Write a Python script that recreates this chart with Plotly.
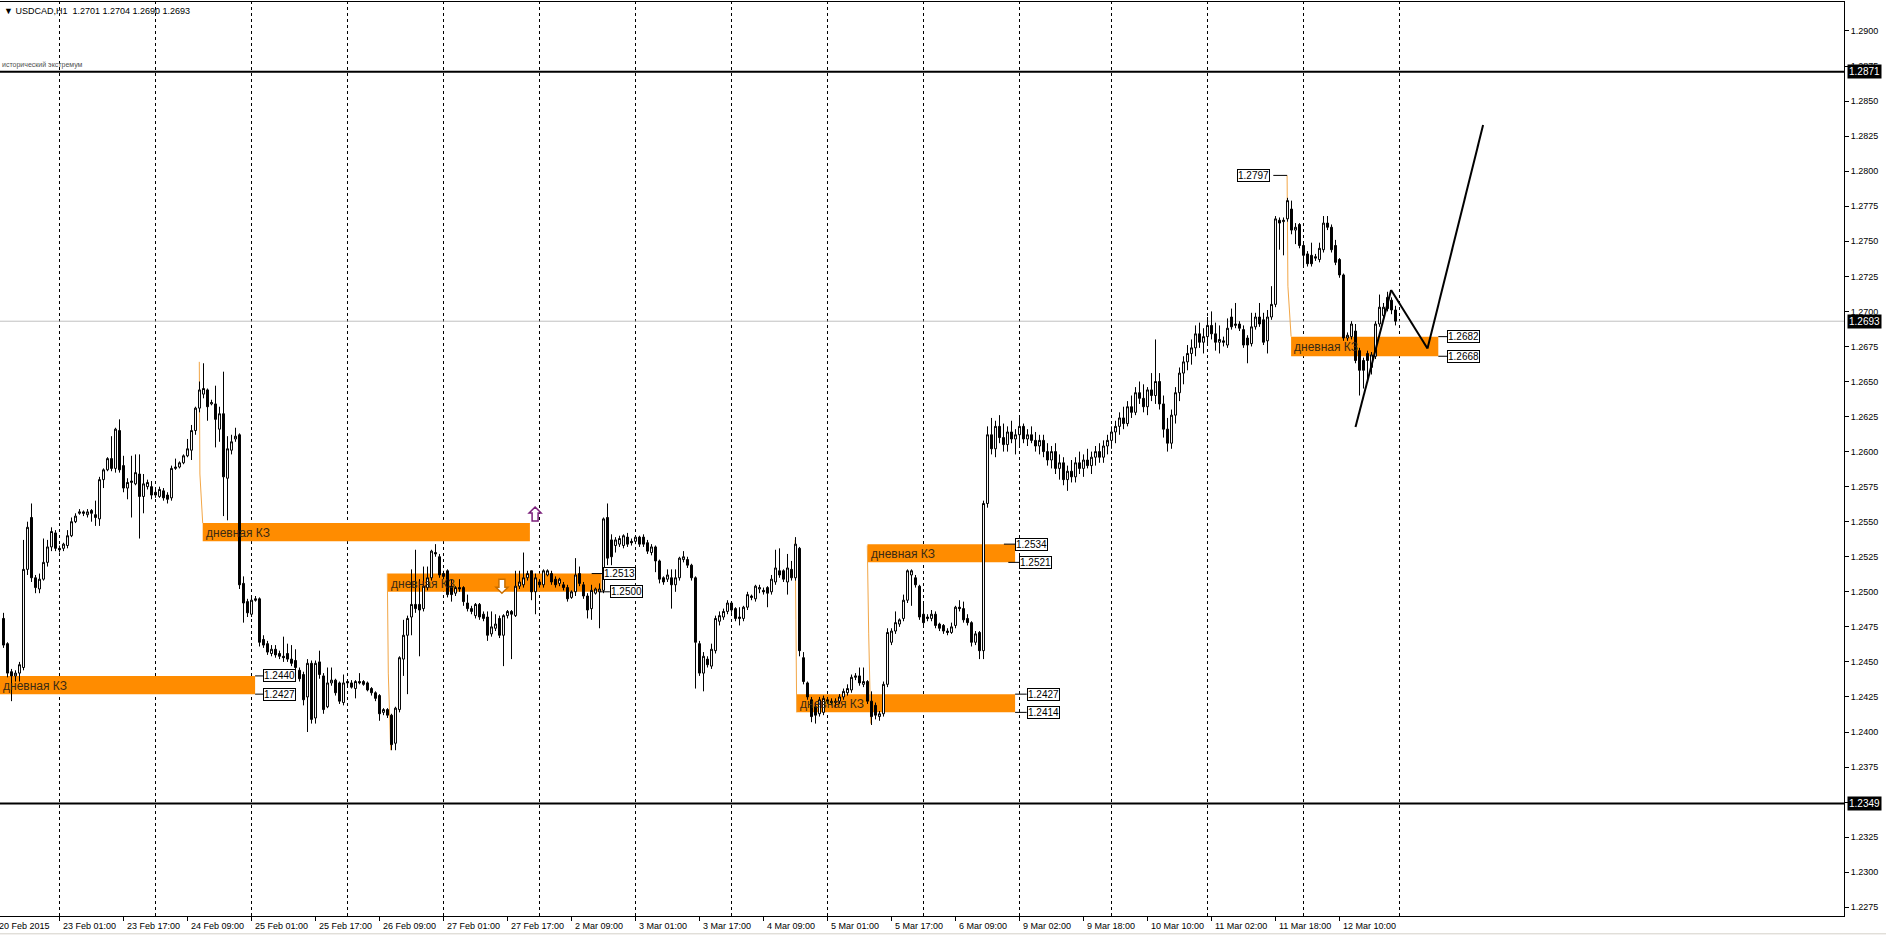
import plotly.graph_objects as go

# USDCAD H1 candles, bar index 0 = 23 Feb 01:00 (4 px per bar on screen)
bar_start = -14

opens = [
    1.2481, 1.2463, 1.2443, 1.2440, 1.2442, 1.2446, 1.2516, 1.2553, 1.2510, 1.2502,
    1.2509, 1.2521, 1.2532, 1.2542, 1.2531, 1.2531, 1.2533, 1.2540, 1.2550, 1.2556,
    1.2557, 1.2555, 1.2558, 1.2555, 1.2552, 1.2580, 1.2587, 1.2595, 1.2588, 1.2615,
    1.2590, 1.2574, 1.2578, 1.2577, 1.2584, 1.2568, 1.2575, 1.2575, 1.2571, 1.2568,
    1.2572, 1.2569, 1.2567, 1.2588, 1.2589, 1.2592, 1.2597, 1.2601, 1.2615, 1.2631,
    1.2641, 1.2644, 1.2634, 1.2634, 1.2616, 1.2627, 1.2581, 1.2601, 1.2609, 1.2612,
    1.2506, 1.2493, 1.2484, 1.2495, 1.2495, 1.2466, 1.2463, 1.2456, 1.2459, 1.2456,
    1.2454, 1.2456, 1.2452, 1.2451, 1.2444, 1.2441, 1.2425, 1.2449, 1.2410, 1.2450,
    1.2440, 1.2418, 1.2435, 1.2437, 1.2435, 1.2421, 1.2436, 1.2435, 1.2431, 1.2436,
    1.2436, 1.2435, 1.2431, 1.2428, 1.2426, 1.2414, 1.2416, 1.2412, 1.2392, 1.2416,
    1.2452, 1.2469, 1.2482, 1.2491, 1.2491, 1.2488, 1.2503, 1.2510, 1.2528, 1.2525,
    1.2513, 1.2515, 1.2504, 1.2499, 1.2503, 1.2503, 1.2492, 1.2488, 1.2483, 1.2491,
    1.2484, 1.2482, 1.2470, 1.2474, 1.2481, 1.2469, 1.2483, 1.2486, 1.2483, 1.2504,
    1.2505, 1.2510, 1.2515, 1.2500, 1.2507, 1.2505, 1.2512, 1.2513, 1.2509, 1.2506,
    1.2505, 1.2503, 1.2496, 1.2500, 1.2513, 1.2505, 1.2497, 1.2488, 1.2499, 1.2500,
    1.2501, 1.2553, 1.2537, 1.2533, 1.2534, 1.2533, 1.2539, 1.2536, 1.2536, 1.2539,
    1.2539, 1.2535, 1.2528, 1.2532, 1.2522, 1.2510, 1.2509, 1.2510, 1.2505, 1.2510,
    1.2523, 1.2523, 1.2519, 1.2510, 1.2463, 1.2442, 1.2452, 1.2447, 1.2458, 1.2479,
    1.2482, 1.2486, 1.2492, 1.2488, 1.2482, 1.2481, 1.2489, 1.2497, 1.2495, 1.2502,
    1.2501, 1.2503, 1.2500, 1.2507, 1.2515, 1.2515, 1.2507, 1.2516, 1.2510, 1.2531,
    1.2453, 1.2435, 1.2423, 1.2418, 1.2413, 1.2414, 1.2423, 1.2422, 1.2421, 1.2422,
    1.2425, 1.2428, 1.2430, 1.2439, 1.2440, 1.2434, 1.2436, 1.2422, 1.2419, 1.2411,
    1.2413, 1.2434, 1.2464, 1.2472, 1.2477, 1.2481, 1.2494, 1.2512, 1.2510, 1.2504,
    1.2484, 1.2482, 1.2481, 1.2484, 1.2477, 1.2476, 1.2472, 1.2471, 1.2476, 1.2489,
    1.2488, 1.2481, 1.2478, 1.2464, 1.2471, 1.2458, 1.2563, 1.2612, 1.2602, 1.2618,
    1.2610, 1.2605, 1.2614, 1.2609, 1.2612, 1.2618, 1.2609, 1.2612, 1.2608, 1.2604,
    1.2608, 1.2600, 1.2594, 1.2600, 1.2588, 1.2592, 1.2580, 1.2586, 1.2582, 1.2592,
    1.2588, 1.2594, 1.2590, 1.2596, 1.2600, 1.2596, 1.2604, 1.2608, 1.2614, 1.2618,
    1.2624, 1.2620, 1.2632, 1.2628, 1.2642, 1.2638, 1.2632, 1.2644, 1.2640, 1.2650,
    1.2634, 1.2616, 1.2606, 1.2626, 1.2642, 1.2656, 1.2664, 1.2670, 1.2674, 1.2684,
    1.2678, 1.2682, 1.2690, 1.2684, 1.2678, 1.2679, 1.2676, 1.2696, 1.2690, 1.2691,
    1.2687, 1.2681, 1.2677, 1.2689, 1.2696, 1.2694, 1.2679, 1.2696, 1.2705, 1.2765,
    1.2764, 1.2766, 1.2773, 1.2758, 1.2762, 1.2747, 1.2741, 1.2740, 1.2739, 1.2737,
    1.2744, 1.2763, 1.2760, 1.2747, 1.2737, 1.2726, 1.2681, 1.2682, 1.2686, 1.2672,
    1.2665, 1.2670, 1.2660, 1.2668, 1.2691, 1.2697, 1.2710, 1.2708, 1.2701,
]
highs = [
    1.2485, 1.2464, 1.2445, 1.2444, 1.2450, 1.2537, 1.2550, 1.2563, 1.2512, 1.2513,
    1.2538, 1.2537, 1.2546, 1.2544, 1.2533, 1.2535, 1.2544, 1.2553, 1.2556, 1.2559,
    1.2558, 1.2559, 1.2559, 1.2565, 1.2582, 1.2588, 1.2596, 1.2611, 1.2617, 1.2623,
    1.2597, 1.2581, 1.2597, 1.2598, 1.2598, 1.2584, 1.2580, 1.2579, 1.2573, 1.2575,
    1.2574, 1.2571, 1.2590, 1.2595, 1.2593, 1.2598, 1.2609, 1.2619, 1.2632, 1.2650,
    1.2663, 1.2645, 1.2637, 1.2647, 1.2632, 1.2657, 1.2611, 1.2612, 1.2617, 1.2613,
    1.2511, 1.2495, 1.2496, 1.2497, 1.2496, 1.2469, 1.2465, 1.2462, 1.2462, 1.2458,
    1.2468, 1.2463, 1.2462, 1.2459, 1.2446, 1.2443, 1.2452, 1.2451, 1.2451, 1.2458,
    1.2442, 1.2446, 1.2446, 1.2438, 1.2436, 1.2441, 1.2437, 1.2437, 1.2437, 1.2442,
    1.2437, 1.2436, 1.2432, 1.2429, 1.2427, 1.2417, 1.2417, 1.2413, 1.2418, 1.2454,
    1.2480, 1.2483, 1.2516, 1.2530, 1.2509, 1.2518, 1.2518, 1.2530, 1.2534, 1.2527,
    1.2515, 1.2516, 1.2509, 1.2504, 1.2509, 1.2504, 1.2498, 1.2490, 1.2492, 1.2492,
    1.2486, 1.2486, 1.2486, 1.2484, 1.2483, 1.2484, 1.2487, 1.2487, 1.2515, 1.2515,
    1.2528, 1.2515, 1.2515, 1.2513, 1.2509, 1.2516, 1.2516, 1.2515, 1.2511, 1.2510,
    1.2507, 1.2505, 1.2501, 1.2524, 1.2518, 1.2507, 1.2499, 1.2505, 1.2503, 1.2506,
    1.2553, 1.2563, 1.2541, 1.2539, 1.2540, 1.2541, 1.2542, 1.2538, 1.2540, 1.2540,
    1.2541, 1.2537, 1.2534, 1.2533, 1.2523, 1.2511, 1.2516, 1.2516, 1.2516, 1.2525,
    1.2529, 1.2525, 1.2520, 1.2511, 1.2465, 1.2457, 1.2454, 1.2463, 1.2483, 1.2486,
    1.2488, 1.2494, 1.2493, 1.2489, 1.2489, 1.2490, 1.2500, 1.2498, 1.2505, 1.2505,
    1.2503, 1.2504, 1.2512, 1.2530, 1.2531, 1.2516, 1.2527, 1.2522, 1.2539, 1.2532,
    1.2457, 1.2436, 1.2425, 1.2421, 1.2425, 1.2426, 1.2425, 1.2424, 1.2424, 1.2427,
    1.2431, 1.2434, 1.2441, 1.2442, 1.2446, 1.2446, 1.2437, 1.2429, 1.2421, 1.2415,
    1.2436, 1.2474, 1.2474, 1.2486, 1.2481, 1.2498, 1.2516, 1.2516, 1.2512, 1.2505,
    1.2492, 1.2484, 1.2487, 1.2486, 1.2478, 1.2477, 1.2474, 1.2478, 1.2490, 1.2494,
    1.2493, 1.2484, 1.2479, 1.2472, 1.2472, 1.2565, 1.2618, 1.2624, 1.2622, 1.2626,
    1.2620, 1.2618, 1.2622, 1.2616, 1.2624, 1.2620, 1.2616, 1.2618, 1.2614, 1.2612,
    1.2612, 1.2606, 1.2604, 1.2606, 1.2598, 1.2596, 1.2590, 1.2594, 1.2596, 1.2600,
    1.2598, 1.2602, 1.2600, 1.2604, 1.2606, 1.2608, 1.2612, 1.2618, 1.2622, 1.2628,
    1.2632, 1.2636, 1.2640, 1.2646, 1.2650, 1.2648, 1.2646, 1.2656, 1.2680, 1.2656,
    1.2640, 1.2624, 1.2630, 1.2646, 1.2660, 1.2668, 1.2676, 1.2680, 1.2690, 1.2692,
    1.2688, 1.2696, 1.2700, 1.2692, 1.2690, 1.2682, 1.2695, 1.2702, 1.2706, 1.2693,
    1.2690, 1.2683, 1.2699, 1.2699, 1.2706, 1.2699, 1.2701, 1.2718, 1.2768, 1.2767,
    1.2767, 1.2781, 1.2779, 1.2763, 1.2763, 1.2749, 1.2743, 1.2749, 1.2741, 1.2749,
    1.2768, 1.2768, 1.2762, 1.2751, 1.2738, 1.2727, 1.2685, 1.2693, 1.2691, 1.2674,
    1.2667, 1.2672, 1.2671, 1.2693, 1.2712, 1.2706, 1.2714, 1.2710, 1.2704,
]
lows = [
    1.2460, 1.2439, 1.2422, 1.2436, 1.2436, 1.2444, 1.2512, 1.2507, 1.2499, 1.2499,
    1.2508, 1.2518, 1.2529, 1.2529, 1.2528, 1.2529, 1.2531, 1.2539, 1.2549, 1.2555,
    1.2554, 1.2553, 1.2550, 1.2547, 1.2547, 1.2574, 1.2586, 1.2586, 1.2585, 1.2585,
    1.2571, 1.2566, 1.2553, 1.2576, 1.2538, 1.2556, 1.2573, 1.2566, 1.2567, 1.2567,
    1.2565, 1.2563, 1.2565, 1.2587, 1.2588, 1.2591, 1.2596, 1.2594, 1.2612, 1.2628,
    1.2638, 1.2622, 1.2633, 1.2603, 1.2607, 1.2554, 1.2551, 1.2598, 1.2607, 1.2502,
    1.2478, 1.2482, 1.2482, 1.2493, 1.2461, 1.2460, 1.2455, 1.2454, 1.2453, 1.2452,
    1.2450, 1.2450, 1.2447, 1.2444, 1.2436, 1.2419, 1.2400, 1.2406, 1.2406, 1.2438,
    1.2413, 1.2417, 1.2433, 1.2426, 1.2420, 1.2419, 1.2433, 1.2431, 1.2424, 1.2434,
    1.2433, 1.2429, 1.2426, 1.2422, 1.2408, 1.2412, 1.2410, 1.2387, 1.2387, 1.2414,
    1.2440, 1.2427, 1.2469, 1.2485, 1.2454, 1.2486, 1.2501, 1.2508, 1.2525, 1.2510,
    1.2509, 1.2496, 1.2493, 1.2497, 1.2500, 1.2490, 1.2486, 1.2484, 1.2481, 1.2480,
    1.2479, 1.2465, 1.2468, 1.2472, 1.2467, 1.2447, 1.2481, 1.2452, 1.2482, 1.2502,
    1.2503, 1.2508, 1.2494, 1.2484, 1.2503, 1.2503, 1.2511, 1.2505, 1.2503, 1.2504,
    1.2501, 1.2493, 1.2495, 1.2497, 1.2504, 1.2495, 1.2481, 1.2480, 1.2498, 1.2474,
    1.2499, 1.2519, 1.2519, 1.2528, 1.2532, 1.2531, 1.2532, 1.2533, 1.2534, 1.2532,
    1.2532, 1.2527, 1.2526, 1.2514, 1.2506, 1.2505, 1.2507, 1.2488, 1.2500, 1.2508,
    1.2521, 1.2517, 1.2508, 1.2431, 1.2440, 1.2429, 1.2446, 1.2445, 1.2456, 1.2476,
    1.2480, 1.2484, 1.2485, 1.2479, 1.2476, 1.2479, 1.2487, 1.2494, 1.2493, 1.2499,
    1.2498, 1.2489, 1.2498, 1.2505, 1.2510, 1.2507, 1.2498, 1.2508, 1.2508, 1.2454,
    1.2434, 1.2423, 1.2407, 1.2406, 1.2411, 1.2412, 1.2420, 1.2419, 1.2418, 1.2420,
    1.2423, 1.2426, 1.2428, 1.2437, 1.2433, 1.2432, 1.2420, 1.2405, 1.2409, 1.2408,
    1.2411, 1.2432, 1.2462, 1.2470, 1.2475, 1.2479, 1.2492, 1.2490, 1.2503, 1.2480,
    1.2476, 1.2479, 1.2479, 1.2474, 1.2472, 1.2470, 1.2469, 1.2470, 1.2474, 1.2486,
    1.2478, 1.2476, 1.2461, 1.2462, 1.2452, 1.2452, 1.2560, 1.2598, 1.2596, 1.2606,
    1.2600, 1.2600, 1.2606, 1.2598, 1.2604, 1.2606, 1.2604, 1.2606, 1.2600, 1.2598,
    1.2596, 1.2590, 1.2588, 1.2584, 1.2580, 1.2576, 1.2572, 1.2578, 1.2578, 1.2584,
    1.2582, 1.2588, 1.2584, 1.2590, 1.2592, 1.2592, 1.2598, 1.2602, 1.2606, 1.2612,
    1.2616, 1.2618, 1.2624, 1.2626, 1.2634, 1.2628, 1.2626, 1.2636, 1.2634, 1.2630,
    1.2610, 1.2600, 1.2602, 1.2620, 1.2636, 1.2648, 1.2658, 1.2662, 1.2668, 1.2674,
    1.2670, 1.2676, 1.2680, 1.2672, 1.2670, 1.2675, 1.2674, 1.2687, 1.2688, 1.2686,
    1.2674, 1.2663, 1.2675, 1.2687, 1.2689, 1.2676, 1.2670, 1.2694, 1.2703, 1.2744,
    1.2740, 1.2764, 1.2755, 1.2748, 1.2745, 1.2731, 1.2732, 1.2732, 1.2736, 1.2735,
    1.2742, 1.2758, 1.2742, 1.2733, 1.2724, 1.2679, 1.2679, 1.2680, 1.2663, 1.2640,
    1.2645, 1.2650, 1.2655, 1.2666, 1.2689, 1.2695, 1.2700, 1.2698, 1.2690,
]
closes = [
    1.2462, 1.2442, 1.2440, 1.2442, 1.2448, 1.2516, 1.2546, 1.2510, 1.2503, 1.2509,
    1.2521, 1.2532, 1.2543, 1.2531, 1.2530, 1.2534, 1.2540, 1.2550, 1.2554, 1.2557,
    1.2556, 1.2557, 1.2556, 1.2553, 1.2580, 1.2587, 1.2595, 1.2588, 1.2616, 1.2587,
    1.2574, 1.2578, 1.2579, 1.2585, 1.2568, 1.2577, 1.2578, 1.2569, 1.2569, 1.2573,
    1.2567, 1.2566, 1.2588, 1.2589, 1.2592, 1.2597, 1.2602, 1.2615, 1.2631, 1.2644,
    1.2645, 1.2632, 1.2635, 1.2623, 1.2627, 1.2582, 1.2602, 1.2607, 1.2611, 1.2505,
    1.2492, 1.2485, 1.2494, 1.2494, 1.2464, 1.2462, 1.2457, 1.2459, 1.2455, 1.2454,
    1.2453, 1.2452, 1.2449, 1.2446, 1.2438, 1.2423, 1.2449, 1.2409, 1.2449, 1.2441,
    1.2416, 1.2435, 1.2437, 1.2428, 1.2422, 1.2435, 1.2435, 1.2432, 1.2436, 1.2435,
    1.2434, 1.2430, 1.2428, 1.2424, 1.2413, 1.2416, 1.2412, 1.2391, 1.2417, 1.2453,
    1.2469, 1.2481, 1.2491, 1.2488, 1.2487, 1.2504, 1.2510, 1.2529, 1.2527, 1.2512,
    1.2511, 1.2498, 1.2498, 1.2503, 1.2502, 1.2493, 1.2488, 1.2486, 1.2491, 1.2482,
    1.2481, 1.2469, 1.2475, 1.2477, 1.2469, 1.2483, 1.2486, 1.2484, 1.2504, 1.2507,
    1.2510, 1.2513, 1.2500, 1.2510, 1.2505, 1.2515, 1.2515, 1.2507, 1.2505, 1.2509,
    1.2503, 1.2495, 1.2500, 1.2512, 1.2506, 1.2497, 1.2487, 1.2501, 1.2502, 1.2502,
    1.2552, 1.2524, 1.2525, 1.2537, 1.2538, 1.2540, 1.2534, 1.2535, 1.2539, 1.2534,
    1.2534, 1.2529, 1.2532, 1.2522, 1.2509, 1.2507, 1.2512, 1.2505, 1.2510, 1.2524,
    1.2525, 1.2519, 1.2510, 1.2464, 1.2442, 1.2454, 1.2448, 1.2459, 1.2481, 1.2483,
    1.2486, 1.2492, 1.2487, 1.2481, 1.2481, 1.2489, 1.2498, 1.2496, 1.2504, 1.2503,
    1.2500, 1.2499, 1.2509, 1.2517, 1.2512, 1.2509, 1.2517, 1.2510, 1.2534, 1.2458,
    1.2436, 1.2425, 1.2411, 1.2412, 1.2423, 1.2424, 1.2422, 1.2421, 1.2422, 1.2425,
    1.2429, 1.2431, 1.2439, 1.2440, 1.2435, 1.2436, 1.2422, 1.2411, 1.2412, 1.2413,
    1.2434, 1.2471, 1.2472, 1.2478, 1.2480, 1.2494, 1.2515, 1.2515, 1.2505, 1.2482,
    1.2478, 1.2481, 1.2484, 1.2476, 1.2474, 1.2472, 1.2471, 1.2475, 1.2489, 1.2488,
    1.2480, 1.2478, 1.2464, 1.2470, 1.2458, 1.2563, 1.2612, 1.2602, 1.2618, 1.2610,
    1.2605, 1.2614, 1.2609, 1.2612, 1.2618, 1.2609, 1.2612, 1.2608, 1.2604, 1.2608,
    1.2600, 1.2594, 1.2600, 1.2588, 1.2592, 1.2580, 1.2586, 1.2582, 1.2592, 1.2588,
    1.2594, 1.2590, 1.2596, 1.2600, 1.2596, 1.2604, 1.2608, 1.2614, 1.2618, 1.2624,
    1.2620, 1.2632, 1.2628, 1.2642, 1.2638, 1.2632, 1.2644, 1.2640, 1.2650, 1.2634,
    1.2616, 1.2606, 1.2626, 1.2642, 1.2656, 1.2664, 1.2670, 1.2674, 1.2684, 1.2678,
    1.2682, 1.2690, 1.2684, 1.2678, 1.2680, 1.2678, 1.2688, 1.2689, 1.2691, 1.2688,
    1.2676, 1.2676, 1.2689, 1.2696, 1.2691, 1.2678, 1.2696, 1.2705, 1.2766, 1.2763,
    1.2765, 1.2779, 1.2758, 1.2760, 1.2747, 1.2740, 1.2734, 1.2734, 1.2738, 1.2745,
    1.2763, 1.2760, 1.2744, 1.2735, 1.2726, 1.2681, 1.2683, 1.2691, 1.2665, 1.2658,
    1.2658, 1.2665, 1.2669, 1.2691, 1.2703, 1.2703, 1.2702, 1.2701, 1.2693,
]
bars = list(range(bar_start, bar_start + len(closes)))

# time scale labels (bar index where each label sits)
time_labels = [
    "20 Feb 2015", "23 Feb 01:00", "23 Feb 17:00", "24 Feb 09:00", "25 Feb 01:00",
    "25 Feb 17:00", "26 Feb 09:00", "27 Feb 01:00", "27 Feb 17:00", "2 Mar 09:00",
    "3 Mar 01:00", "3 Mar 17:00", "4 Mar 09:00", "5 Mar 01:00", "5 Mar 17:00",
    "6 Mar 09:00", "9 Mar 02:00", "9 Mar 18:00", "10 Mar 10:00", "11 Mar 02:00",
    "11 Mar 18:00", "12 Mar 10:00",
]
time_label_bars = [-15, 0, 16, 32, 48, 64, 80, 96, 112, 128, 144, 160, 176, 192,
                   208, 224, 240, 256, 272, 288, 304, 320]
day_separators = [0, 24, 48, 72, 96, 120, 144, 168, 192, 216, 240, 263, 287, 311, 335]

# horizontal levels
extremum_high = 1.2871
extremum_low = 1.2349
bid_price = 1.2693
header_text = "▼ USDCAD,H1  1.2701 1.2704 1.2690 1.2693"

# daily "КЗ" zones
kz_left = [-16, 35.8, 82.0, 184.3, 202.0, 307.9]
kz_right = [48.9, 117.6, 135.5, 238.9, 238.9, 344.7]
kz_top = [1.2440, 1.2549, 1.2513, 1.2427, 1.2534, 1.2682]
kz_bottom = [1.2427, 1.2536, 1.2500, 1.2414, 1.2521, 1.2668]
kz_tag_top_x = [50.9, None, 135.95, 241.8, 238.9, 346.9]
kz_tag_bot_x = [50.9, None, 137.6, 241.8, 239.9, 346.9]
kz_tag_top_from = [48.9, None, 133.05, 238.9, 236.1, 344.7]
kz_tag_bot_from = [48.9, None, 135.1, 238.9, 237.2, 344.7]
# thin orange legs from the day extreme to the zone
kz_leg_x = [None, [34.95, 35.1, 35.8], [81.95, 82.2, 82.8], [183.9, 184.1, 184.3],
            [201.95, 202.3, 202.8], [306.9, 307.1, 307.9]]
kz_leg_y = [None, [1.2664, 1.2584, 1.2549], [1.2513, 1.2442, 1.2387], [1.2537, 1.2480, 1.2414],
            [1.2533, 1.2470, 1.2406], [1.2797, 1.2718, 1.2682]]
high_tag_price = 1.2797
high_tag_x = 294.3
high_tag_from = [303.45, 306.9]

# hand drawn forecast line
forecast_x = [324.0, 332.9, 342.0, 355.9]
forecast_y = [1.26175, 1.27153, 1.26735, 1.28330]

# arrow objects: (bar, price, direction, outline colour)
arrows = [(118.9, 1.25555, 1, "#7a1f7a"), (110.6, 1.2504, -1, "#c86e00")]

FONT = "Liberation Sans, Arial, sans-serif"
ORANGE = "#FF8C00"
x_range = [-14.875, 446.125]
y_range = [1.226876, 1.292068]
PX_PER_BAR = 4.0
PX_PER_PRICE = 14020.0

fig = go.Figure()

fig.add_trace(go.Candlestick(
    x=bars, open=opens, high=highs, low=lows, close=closes,
    increasing=dict(line=dict(color="black", width=1), fillcolor="white"),
    decreasing=dict(line=dict(color="black", width=1), fillcolor="black"),
    whiskerwidth=0, hoverinfo="skip", showlegend=False,
))

shapes = []
annotations = []

# zones first (background), then grid dashes over them
for i in range(len(kz_left)):
    shapes.append(dict(type="rect", xref="x", yref="y", layer="below",
                       x0=kz_left[i], x1=kz_right[i], y0=kz_bottom[i], y1=kz_top[i],
                       fillcolor=ORANGE, line=dict(width=0)))
    if kz_leg_x[i]:
        for a in range(len(kz_leg_x[i]) - 1):
            shapes.append(dict(type="line", xref="x", yref="y", layer="below",
                               x0=kz_leg_x[i][a], x1=kz_leg_x[i][a + 1],
                               y0=kz_leg_y[i][a], y1=kz_leg_y[i][a + 1],
                               line=dict(color="#F2A646", width=1)))
    annotations.append(dict(x=max(kz_left[i], x_range[0]), y=(kz_top[i] + kz_bottom[i]) / 2,
                            xref="x", yref="y", text="дневная КЗ", showarrow=False,
                            xanchor="left", yanchor="middle", xshift=1, yshift=-1,
                            font=dict(family=FONT, size=12, color="#3a2a14")))
    if kz_tag_top_x[i] is not None:
        for px, frm, price in [(kz_tag_top_x[i], kz_tag_top_from[i], kz_top[i]),
                               (kz_tag_bot_x[i], kz_tag_bot_from[i], kz_bottom[i])]:
            shapes.append(dict(type="line", xref="x", yref="y", layer="above",
                               x0=frm, x1=px, y0=price, y1=price,
                               line=dict(color="black", width=1)))
            annotations.append(dict(x=px, y=price, xref="x", yref="y", text=f"{price:.4f}",
                                    showarrow=False, xanchor="left", yanchor="middle",
                                    bgcolor="white", bordercolor="black", borderwidth=1,
                                    borderpad=0, font=dict(family=FONT, size=10, color="black")))

for b in day_separators:
    shapes.append(dict(type="line", xref="x", yref="paper", layer="below",
                       x0=b, x1=b, y0=0, y1=1,
                       line=dict(color="black", width=1, dash="3px,3px")))

# levels
for lvl in [extremum_high, extremum_low]:
    shapes.append(dict(type="line", xref="paper", yref="y", layer="above",
                       x0=0, x1=1, y0=lvl, y1=lvl, line=dict(color="black", width=2)))
shapes.append(dict(type="line", xref="paper", yref="y", layer="below",
                   x0=0, x1=1, y0=bid_price, y1=bid_price, line=dict(color="#C0C0C0", width=1)))

# window bottom strip under the time scale
shapes.append(dict(type="line", xref="paper", yref="paper", x0=0, x1=1.03, y0=-0.0195, y1=-0.0195,
                   line=dict(color="#D4D0C8", width=1)))

# 1.2797 tag
shapes.append(dict(type="line", xref="x", yref="y", layer="above",
                   x0=high_tag_from[0], x1=high_tag_from[1], y0=high_tag_price, y1=high_tag_price,
                   line=dict(color="black", width=1)))
annotations.append(dict(x=high_tag_x, y=high_tag_price, xref="x", yref="y", text=f"{high_tag_price:.4f}",
                        showarrow=False, xanchor="left", yanchor="middle", bgcolor="white",
                        bordercolor="black", borderwidth=1, borderpad=0,
                        font=dict(family=FONT, size=10, color="black")))

# forecast polyline
for a in range(len(forecast_x) - 1):
    shapes.append(dict(type="line", xref="x", yref="y", layer="above",
                       x0=forecast_x[a], x1=forecast_x[a + 1], y0=forecast_y[a], y1=forecast_y[a + 1],
                       line=dict(color="black", width=2)))

# hollow block arrows (outline in pixels around the anchor point)
outline = [(0, 7), (6, 1), (3, 1), (3, -7), (-3, -7), (-3, 1), (-6, 1)]
for ax, ay, direction, colour in arrows:
    pts = [(ax + dx / PX_PER_BAR, ay + direction * dy / PX_PER_PRICE) for dx, dy in outline]
    path = "M " + " L ".join(f"{px},{py}" for px, py in pts) + " Z"
    shapes.append(dict(type="path", xref="x", yref="y", layer="above", path=path,
                       fillcolor="white", line=dict(color=colour, width=1.5)))

# price tags on the right scale
for price in [extremum_high, bid_price, extremum_low]:
    annotations.append(dict(x=1, y=price, xref="paper", yref="y", text=f"{price:.4f}",
                            showarrow=False, xanchor="left", yanchor="middle", xshift=3,
                            bgcolor="black", borderpad=1,
                            font=dict(family=FONT, size=10, color="white")))

# time labels (first one sits at the very left edge)
for b, lab in zip(time_label_bars, time_labels):
    if b < x_range[0]:
        annotations.append(dict(x=0, y=0, xref="paper", yref="paper", text=lab, showarrow=False,
                                xanchor="left", yanchor="top", xshift=-3, yshift=-3,
                                font=dict(family=FONT, size=9, color="black")))
    else:
        annotations.append(dict(x=b, y=0, xref="x", yref="paper", text=lab, showarrow=False,
                                xanchor="left", yanchor="top", xshift=1, yshift=-3,
                                font=dict(family=FONT, size=9, color="black")))

annotations.append(dict(x=0, y=1, xref="paper", yref="paper", text=header_text, showarrow=False,
                        xanchor="left", yanchor="top", xshift=2, yshift=-2,
                        font=dict(family=FONT, size=9, color="black")))
annotations.append(dict(x=0, y=extremum_high, xref="paper", yref="y", text="исторический экстремум",
                        showarrow=False, xanchor="left", yanchor="bottom", xshift=0, yshift=1,
                        font=dict(family=FONT, size=7, color="#505050")))

fig.update_layout(
    width=1886, height=938,
    margin=dict(l=0, r=42, t=2, b=22),
    paper_bgcolor="white", plot_bgcolor="white",
    shapes=shapes, annotations=annotations,
    showlegend=False,
    xaxis=dict(range=x_range, rangeslider=dict(visible=False), showgrid=False, zeroline=False,
               showline=True, mirror=True, linecolor="black", linewidth=1,
               tickvals=time_label_bars, ticktext=[""] * len(time_label_bars),
               ticks="outside", ticklen=4, tickcolor="black"),
    yaxis=dict(range=y_range, side="right", showgrid=False, zeroline=False,
               showline=True, linecolor="black", linewidth=1,
               tick0=1.2275, dtick=0.0025, tickformat=".4f",
               ticks="outside", ticklen=4, tickcolor="black",
               tickfont=dict(family=FONT, size=9, color="black")),
)

fig.write_html("out.html", config={"displayModeBar": False},
               post_script="document.body.style.margin='0';document.body.style.overflow='hidden';")
